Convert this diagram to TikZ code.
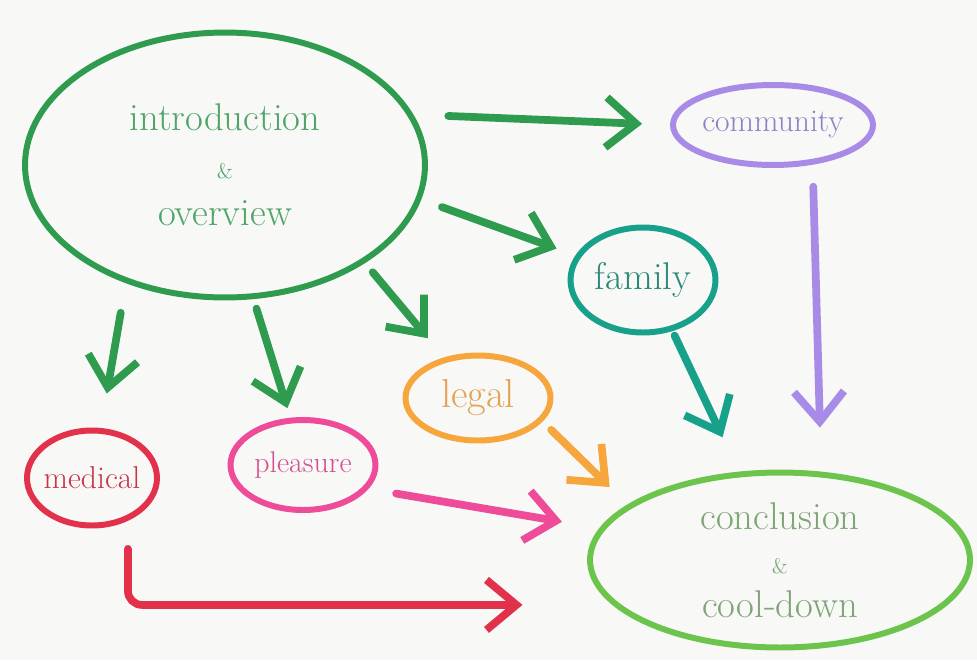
\documentclass[tikz,border=0pt]{standalone}
\usepackage{tikz}
\usetikzlibrary{shapes,arrows.meta,calc}
\definecolor{paper}{HTML}{F8F8F7}
\definecolor{introgreen}{HTML}{2F9B4E}
\definecolor{introtext}{HTML}{4FA468}
\definecolor{purple}{HTML}{A88BE6}
\definecolor{purpletext}{HTML}{8E7FC6}
\definecolor{teal}{HTML}{17A08A}
\definecolor{tealtext}{HTML}{2B8878}
\definecolor{orange}{HTML}{F6A63C}
\definecolor{orangetext}{HTML}{E2A452}
\definecolor{red}{HTML}{E2314B}
\definecolor{redtext}{HTML}{C8324A}
\definecolor{pink}{HTML}{EE4B98}
\definecolor{pinktext}{HTML}{D64C8C}
\definecolor{endgreen}{HTML}{6CC44C}
\definecolor{endtext}{HTML}{7FA476}
\tikzset{
  topic/.style={ellipse,line width=3.4pt,inner sep=0pt,align=center},
  flow/.style={line width=4.4pt,line cap=round,
    -{Straight Barb[length=0.6cm,width=1cm,line width=4.4pt]}},
}

\begin{document}
\begin{tikzpicture}[x=0.02cm,y=-0.02cm]
      \fill[paper] (0,0) rectangle (977,660); % page
      \node[topic,draw=introgreen,text=introtext,minimum width=8cm,minimum height=5.3cm,
        font=\fontsize{22}{27}\selectfont] (intro) at (225,165)
        {introduction\\{\fontsize{12}{14}\selectfont\&}\\overview}; % start
      \node[topic,draw=purple,text=purpletext,minimum width=4cm,minimum height=1.6cm,
        font=\fontsize{18}{20}\selectfont] (community) at (773,125) {community}; % community
      \node[topic,draw=teal,text=tealtext,minimum width=2.9cm,minimum height=2.1cm,
        font=\fontsize{22}{24}\selectfont] (family) at (643,280) {family}; % family
      \node[topic,draw=orange,text=orangetext,minimum width=2.9cm,minimum height=1.7cm,
        font=\fontsize{23}{25}\selectfont] (legal) at (478,398) {legal}; % legal
      \node[topic,draw=red,text=redtext,minimum width=2.6cm,minimum height=1.9cm,inner sep=-6pt,
        font=\fontsize{18}{20}\selectfont] (medical) at (92,478) {medical}; % medical
      \node[topic,draw=pink,text=pinktext,minimum width=2.9cm,minimum height=1.8cm,inner sep=-5pt,
        font=\fontsize{17}{19}\selectfont] (pleasure) at (303,465) {pleasure}; % pleasure
      \node[topic,draw=endgreen,text=endtext,minimum width=7.6cm,minimum height=3.5cm,
        font=\fontsize{22}{25}\selectfont] (conclusion) at (780,560)
        {conclusion\\{\fontsize{12}{14}\selectfont\&}\\cool-down}; % end
      \draw[flow,introgreen,shorten <=0.7cm,shorten >=0.56cm] (intro.15) -- (community.west); % to community
      \draw[flow,introgreen,shorten <=0.44cm,shorten >=0.4cm] (intro.-10) -- (family.160); % to family
      \draw[flow,introgreen,shorten <=0.24cm,shorten >=0.5cm] (intro.-35) -- (legal.130); % to legal
      \draw[flow,introgreen,shorten <=0.2cm,shorten >=0.2cm] (intro.-78) -- (pleasure.105); % to pleasure
      \draw[flow,introgreen,shorten <=0.6cm,shorten >=0.7cm] (intro.-130) -- (medical.80); % to medical
      \draw[flow,purple,shorten <=0.44cm,shorten >=0.88cm] (community.-45) -- (conclusion.65); % community out
      \draw[flow,teal,shorten <=0.1cm,shorten >=0.76cm] (family.-60) -- (conclusion.115); % family out
      \draw[flow,orange,shorten <=0.24cm,shorten >=0.5cm] (legal.-20) -- (conclusion.160); % legal out
      \draw[flow,pink,shorten <=0.56cm,shorten >=0.76cm] (pleasure.-20) -- (conclusion.170); % pleasure out
      \draw[flow,red,rounded corners=8pt,shorten <=0.56cm,shorten >=1.8cm] (medical.-50) |- (conclusion.195); % medical out
\end{tikzpicture}
\end{document}
